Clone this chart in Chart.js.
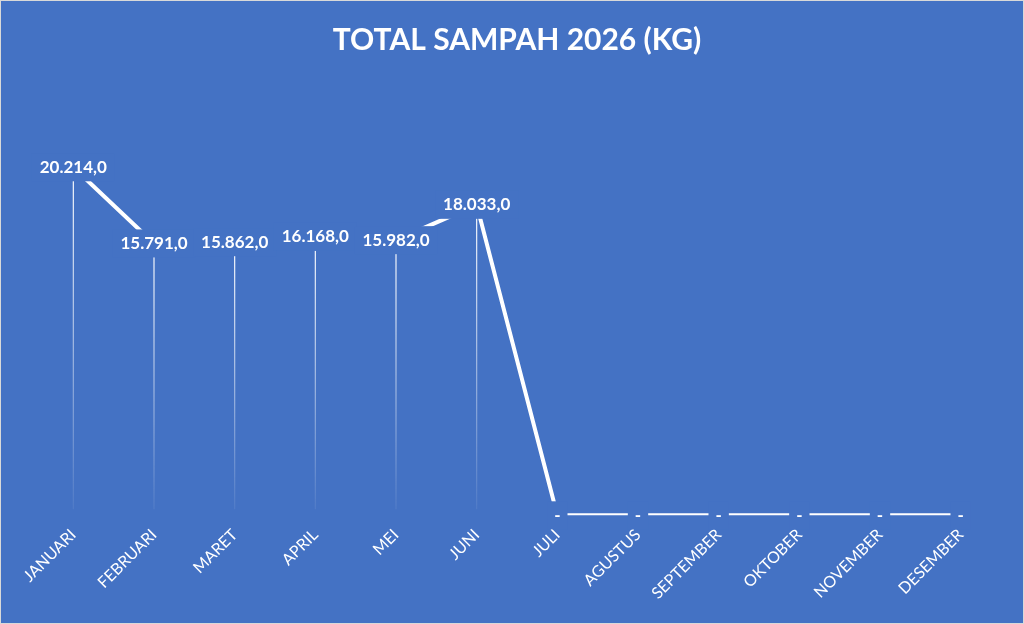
<!DOCTYPE html>
<html>
<head>
<meta charset="utf-8">
<script src="https://cdn.jsdelivr.net/npm/chart.js@4"></script>
<style>
  html, body { margin: 0; padding: 0; background: #fff; }
  #wrap { width: 1024px; height: 624px; box-sizing: border-box; border: 1px solid #d9d9d9; background: #4472c4; }
</style>
</head>
<body>
<div id="wrap"><canvas id="chart"></canvas></div>
<script>
var months = ['JANUARI', 'FEBRUARI', 'MARET', 'APRIL', 'MEI', 'JUNI', 'JULI',
  'AGUSTUS', 'SEPTEMBER', 'OKTOBER', 'NOVEMBER', 'DESEMBER'];
var totalKg = [20214, 15791, 15862, 16168, 15982, 18033, 0, 0, 0, 0, 0, 0];

var bg = '#4472c4';
var fontName = 'Lato, "Open Sans", sans-serif';

function formatKg(v) {
  if (!v) return '-';
  var s = Math.round(v).toString().replace(/\B(?=(\d{3})+(?!\d))/g, '.');
  return s + ',0';
}

// drop lines from each point down to the axis
var dropLines = {
  id: 'dropLines',
  beforeDatasetsDraw: function(chart) {
    var ctx = chart.ctx;
    var base = chart.scales.y.getPixelForValue(0);
    chart.getDatasetMeta(0).data.forEach(function(pt) {
      if (base - pt.y < 1) return;
      var g = ctx.createLinearGradient(0, pt.y, 0, base);
      g.addColorStop(0, 'rgba(255,255,255,1)');
      g.addColorStop(1, 'rgba(255,255,255,0.05)');
      ctx.save();
      ctx.strokeStyle = g;
      ctx.lineWidth = 1.2;
      ctx.beginPath();
      ctx.moveTo(pt.x, pt.y);
      ctx.lineTo(pt.x, base - 6);
      ctx.stroke();
      ctx.restore();
    });
  }
};

// value labels centred on the points, boxed in the background colour
var valueLabels = {
  id: 'valueLabels',
  afterDatasetsDraw: function(chart) {
    var ctx = chart.ctx;
    ctx.save();
    ctx.font = 'bold 17px ' + fontName;
    ctx.textAlign = 'center';
    ctx.textBaseline = 'middle';
    chart.getDatasetMeta(0).data.forEach(function(pt, i) {
      var txt = formatKg(totalKg[i]);
      var w = ctx.measureText(txt).width + (totalKg[i] ? 16 : 14);
      ctx.fillStyle = bg;
      ctx.fillRect(pt.x - w / 2, pt.y - 14, w, 28);
      ctx.fillStyle = '#ffffff';
      ctx.fillText(txt, pt.x, pt.y);
    });
    ctx.restore();
  }
};

new Chart(document.getElementById('chart'), {
  type: 'line',
  data: {
    labels: months,
    datasets: [{
      data: totalKg,
      borderColor: '#ffffff',
      borderWidth: 4,
      pointRadius: 0,
      tension: 0,
      fill: false
    }]
  },
  options: {
    responsive: true,
    maintainAspectRatio: false,
    animation: false,
    layout: { padding: { left: 32, right: 22, top: 10, bottom: 18 } },
    plugins: {
      legend: { display: false },
      tooltip: { enabled: false },
      title: {
        display: true,
        text: 'TOTAL SAMPAH 2026 (KG)',
        color: '#ffffff',
        font: { family: fontName, size: 30, weight: 'bold' },
        padding: { top: 11, bottom: 20 }
      }
    },
    scales: {
      x: {
        offset: true,
        grid: { display: false },
        border: { display: false },
        ticks: {
          color: '#ffffff',
          font: { family: fontName, size: 16 },
          minRotation: 45,
          maxRotation: 45,
          padding: 2
        }
      },
      y: {
        display: false,
        min: 0,
        max: 25400
      }
    }
  },
  plugins: [dropLines, valueLabels]
});
</script>
</body>
</html>
